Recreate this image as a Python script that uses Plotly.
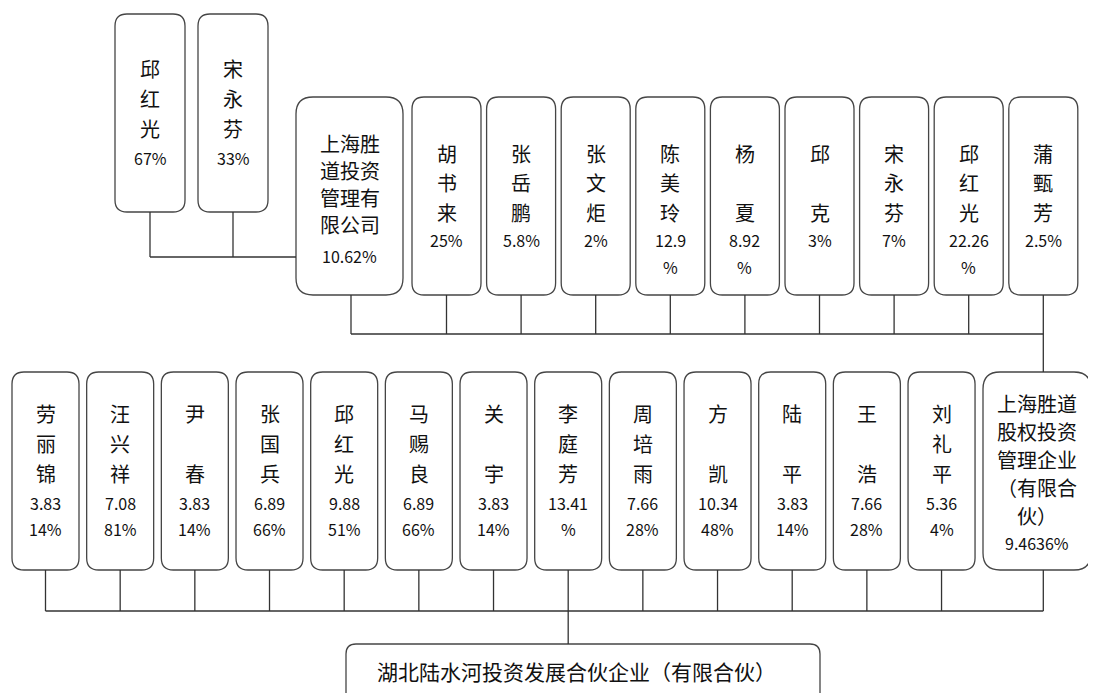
import plotly.graph_objects as go

# ---------------- data ----------------
top_names = ["邱\n红\n光", "宋\n永\n芬"]
top_pcts = ["67%", "33%"]

mid_company_name = "上海胜\n道投资\n管理有\n限公司"
mid_company_pct = "10.62%"
mid_names = ["胡\n书\n来", "张\n岳\n鹏", "张\n文\n炬", "陈\n美\n玲", "杨\n\n夏",
             "邱\n\n克", "宋\n永\n芬", "邱\n红\n光", "蒲\n甄\n芳"]
mid_pcts = ["25%", "5.8%", "2%", "12.9\n%", "8.92\n%", "3%", "7%", "22.26\n%", "2.5%"]

bot_names = ["劳\n丽\n锦", "汪\n兴\n祥", "尹\n\n春", "张\n国\n兵", "邱\n红\n光",
             "马\n赐\n良", "关\n\n宇", "李\n庭\n芳", "周\n培\n雨", "方\n\n凯",
             "陆\n\n平", "王\n\n浩", "刘\n礼\n平"]
bot_pcts = ["3.83\n14%", "7.08\n81%", "3.83\n14%", "6.89\n66%", "9.88\n51%",
            "6.89\n66%", "3.83\n14%", "13.41\n%", "7.66\n28%", "10.34\n48%",
            "3.83\n14%", "7.66\n28%", "5.36\n4%"]
bot_company_name = "上海胜道\n股权投资\n管理企业\n（有限合\n伙）"
bot_company_pct = "9.4636%"

target_name = "湖北陆水河投资发展合伙企业（有限合伙）"

# ---------------- layout helpers ----------------
FONT = "Noto Sans CJK SC, Microsoft YaHei, sans-serif"
BOX_LINE = dict(color="#454545", width=1.3)
CONN_LINE = dict(color="#333333", width=1.3)
PAGE_MARGIN = 8  # default HTML body margin

shapes = []
annotations = []


def rrect(x0, y0, x1, y1, r):
    p = (f"M {x0+r},{y0} L {x1-r},{y0} Q {x1},{y0} {x1},{y0+r} "
         f"L {x1},{y1-r} Q {x1},{y1} {x1-r},{y1} L {x0+r},{y1} "
         f"Q {x0},{y1} {x0},{y1-r} L {x0},{y0+r} Q {x0},{y0} {x0+r},{y0} Z")
    shapes.append(dict(type="path", path=p, line=BOX_LINE, fillcolor="white", layer="below"))


def seg(x0, y0, x1, y1):
    shapes.append(dict(type="line", x0=x0, y0=y0, x1=x1, y1=y1, line=CONN_LINE, layer="below"))


def text(x, y, s, size):
    annotations.append(dict(x=x, y=y, text=s, showarrow=False, xanchor="center",
                            yanchor="middle", font=dict(family=FONT, size=size, color="#111111")))


def box_text(cx, top, name, pct, first, step, pgap, pstep, nsize=20, psize=16):
    y = top + first
    lines = name.split("\n")
    for i, ln in enumerate(lines):
        if ln:
            text(cx, y, ln, nsize)
        if i < len(lines) - 1:
            y += step
    y += pgap
    for i, ln in enumerate(pct.split("\n")):
        text(cx, y, ln, psize)
        y += pstep


# ---------------- row 0 ----------------
r0_top, r0_bot, r0_x, r0_step, r0_w = 14, 212, 115, 83, 70
r0_bus = 257
r0_centers = []
for i, (n, p) in enumerate(zip(top_names, top_pcts)):
    x0 = r0_x + i * r0_step
    rrect(x0, r0_top, x0 + r0_w, r0_bot, 12)
    cx = x0 + r0_w / 2
    r0_centers.append(cx)
    box_text(cx, r0_top, n, p, 54, 30, 30, 26)
    seg(cx, r0_bot, cx, r0_bus)

# ---------------- row 1 ----------------
r1_top, r1_bot = 97, 295
c1_x0, c1_x1 = 296, 403
rrect(c1_x0, r1_top, c1_x1, r1_bot, 17)
c1_cx = 351
box_text((c1_x0 + c1_x1) / 2, r1_top, mid_company_name, mid_company_pct, 46, 27, 32, 26)
seg(r0_centers[0], r0_bus, c1_x0, r0_bus)

r1_bus = 334
r1_x, r1_step, r1_w = 412, 74.6, 69
r1_centers = [c1_cx]
for i, (n, p) in enumerate(zip(mid_names, mid_pcts)):
    x0 = r1_x + i * r1_step
    rrect(x0, r1_top, x0 + r1_w, r1_bot, 12)
    cx = x0 + r1_w / 2
    r1_centers.append(cx)
    box_text(cx, r1_top, n, p, 56, 29.5, 28, 27)
for cx in r1_centers:
    seg(cx, r1_bot, cx, r1_bus)
seg(r1_centers[0], r1_bus, r1_centers[-1], r1_bus)

# ---------------- row 2 ----------------
r2_top, r2_bot = 372, 570
r2_x, r2_step, r2_w = 12, 74.67, 67
r2_bus = 611
r2_centers = []
for i, (n, p) in enumerate(zip(bot_names, bot_pcts)):
    x0 = r2_x + i * r2_step
    rrect(x0, r2_top, x0 + r2_w, r2_bot, 12)
    cx = x0 + r2_w / 2
    r2_centers.append(cx)
    box_text(cx, r2_top, n, p, 41, 30, 30, 26)
c2_x0, c2_x1 = 983, 1091
rrect(c2_x0, r2_top, c2_x1, r2_bot, 17)
c2_cx = r1_centers[-1]
r2_centers.append(c2_cx)
box_text((c2_x0 + c2_x1) / 2, r2_top, bot_company_name, bot_company_pct, 31, 28, 28, 26)
seg(r1_centers[-1], r1_bus, c2_cx, r2_top)
for cx in r2_centers:
    seg(cx, r2_bot, cx, r2_bus)
seg(r2_centers[0], r2_bus, r2_centers[-1], r2_bus)

# ---------------- row 3 ----------------
r3_top, r3_bot = 644, 705
r3_x0, r3_x1 = 346, 820
rrect(r3_x0, r3_top, r3_x1, r3_bot, 10)
trunk = r2_centers[7]
seg(trunk, r2_bus, trunk, r3_top)
text((r3_x0 + r3_x1) / 2 - 7, 671, target_name, 21)

W, H = 1096, 693
fig = go.Figure()
fig.update_layout(
    width=W - PAGE_MARGIN, height=H - PAGE_MARGIN, autosize=False,
    margin=dict(l=0, r=0, t=0, b=0),
    paper_bgcolor="white", plot_bgcolor="white",
    xaxis=dict(range=[PAGE_MARGIN, W], visible=False, fixedrange=True),
    yaxis=dict(range=[H, PAGE_MARGIN], visible=False, fixedrange=True),
    shapes=shapes, annotations=annotations, showlegend=False,
)
fig.write_html("out.html", config={"displayModeBar": False})
